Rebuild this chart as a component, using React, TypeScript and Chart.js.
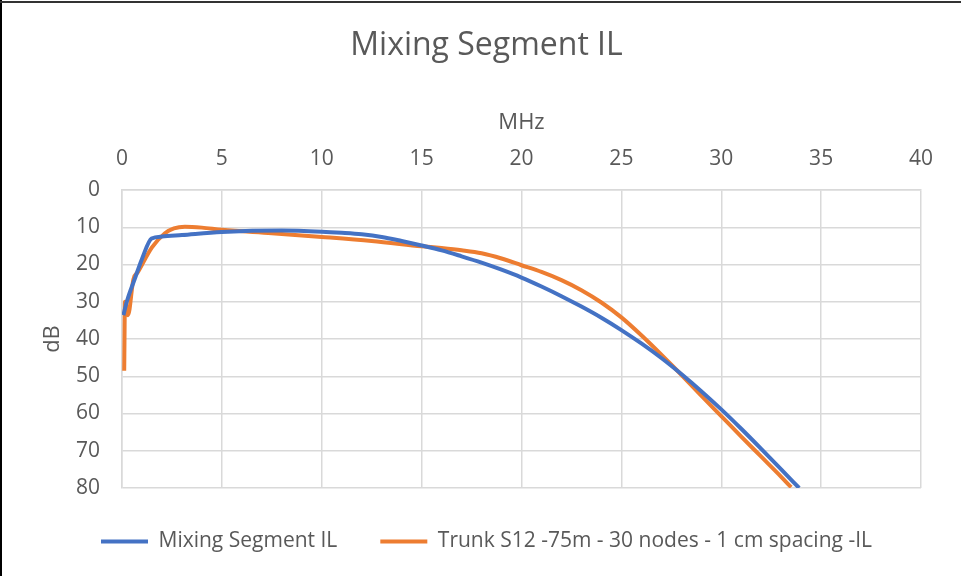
import React, { useEffect, useRef } from "react";
import { Chart, registerables } from "chart.js";

Chart.register(...registerables);

const chartTitle = "Mixing Segment IL";
const xAxisTitle = "MHz";
const yAxisTitle = "dB";

const mixingLabel = "Mixing Segment IL";
const mixingMHz = [0.07, 0.25, 0.65, 1.0, 1.48, 2.0, 3.0, 5, 8, 10, 11, 12, 13, 14, 15, 16, 17, 18, 19, 20, 21, 22, 23, 24, 25, 26, 27, 28, 29, 30, 31, 32, 33, 33.9];
const mixingDb = [33.6, 29.8, 23.7, 18.5, 13.0, 12.5, 12.1, 11.3, 10.9, 11.2, 11.5, 11.9, 12.6, 13.7, 14.9, 16.2, 17.8, 19.5, 21.4, 23.5, 25.9, 28.5, 31.3, 34.3, 37.6, 41.2, 45.1, 49.4, 54.0, 58.9, 64.1, 69.5, 75.0, 80];

const trunkLabel = "Trunk S12 -75m - 30 nodes - 1 cm spacing -IL";
const trunkMHz = [0.11, 0.15, 0.3, 0.57, 0.8, 1.5, 2.15, 2.6, 3.15, 4, 5, 7.5, 10, 12.5, 15, 16, 17, 18, 19, 20, 21, 22, 23, 24, 25, 26, 27, 28, 29, 30, 31, 32, 33, 33.5];
const trunkDb = [48.5, 30, 33.6, 24, 22, 15.4, 11.6, 10.3, 9.85, 10.1, 10.7, 11.6, 12.6, 13.7, 15.1, 15.6, 16.2, 17.0, 18.4, 20.2, 22.0, 24.2, 26.9, 30.2, 34.2, 39.0, 44.2, 49.6, 55.2, 60.7, 66.2, 71.6, 77.0, 79.8];

const xMin = 0, xMax = 40, xStep = 5;
const yMin = 0, yMax = 80, yStep = 10;

const BLUE = "#4472C4";
const ORANGE = "#ED7D31";
const TEXT = "#595959";
const GRID = "#d9d9d9";
const FONT = "'Open Sans', sans-serif";

function toPoints(xs: number[], ys: number[]) {
  return xs.map((x, i) => ({ x, y: ys[i] }));
}

export default function App() {
  const ref = useRef<HTMLCanvasElement | null>(null);

  useEffect(() => {
    document.body.style.margin = "0";
    const canvas = ref.current;
    if (!canvas) return;
    const defaultGen = Chart.defaults.plugins.legend.labels.generateLabels;
    const chart = new Chart(canvas, {
      type: "line",
      data: {
        datasets: [
          {
            label: mixingLabel,
            data: toPoints(mixingMHz, mixingDb),
            borderColor: BLUE,
            backgroundColor: BLUE,
            borderWidth: 4,
            pointRadius: 0,
            cubicInterpolationMode: "monotone",
          },
          {
            label: trunkLabel,
            data: toPoints(trunkMHz, trunkDb),
            borderColor: ORANGE,
            backgroundColor: ORANGE,
            borderWidth: 4,
            pointRadius: 0,
            cubicInterpolationMode: "monotone",
          },
        ],
      },
      options: {
        responsive: false,
        animation: false,
        devicePixelRatio: 1,
        layout: { padding: { left: 52, right: 40, top: 0, bottom: 14 } },
        plugins: {
          tooltip: { enabled: false },
          title: {
            display: true,
            text: chartTitle,
            color: TEXT,
            font: { family: FONT, size: 32, weight: "normal" },
            padding: { top: 27, bottom: 0.6 },
          },
          legend: {
            display: true,
            position: "bottom",
            labels: {
              color: TEXT,
              font: { family: FONT, size: 21 },
              boxWidth: 47,
              boxHeight: 4,
              padding: 43,
              generateLabels: (c: any) =>
                defaultGen(c).map((it: any) => ({ ...it, lineWidth: 0 })),
            },
          },
        },
        scales: {
          x: {
            type: "linear",
            position: "top",
            min: xMin,
            max: xMax,
            ticks: {
              stepSize: xStep,
              color: TEXT,
              font: { family: FONT, size: 21 },
              padding: 18,
              maxRotation: 0,
            },
            grid: { color: GRID, lineWidth: 1.5, drawTicks: false },
            border: { color: GRID, width: 1.5 },
            title: {
              display: true,
              text: xAxisTitle,
              color: TEXT,
              font: { family: FONT, size: 22 },
              padding: { top: 44, bottom: 0 },
            },
            afterFit: (scale: any) => {
              scale.height = 124;
            },
          },
          y: {
            type: "linear",
            reverse: true,
            min: yMin,
            max: yMax,
            ticks: {
              stepSize: yStep,
              color: TEXT,
              font: { family: FONT, size: 21 },
              padding: 22,
            },
            grid: { color: GRID, lineWidth: 1.5, drawTicks: false },
            border: { color: GRID, width: 1.5 },
            title: {
              display: true,
              text: yAxisTitle,
              color: TEXT,
              font: { family: FONT, size: 22 },
              padding: { top: -12.5, bottom: 0 },
            },
            afterFit: (scale: any) => {
              scale.width = 70;
            },
          },
        },
      },
    } as any);
    return () => chart.destroy();
  }, []);

  return (
    <div style={{ position: "fixed", left: 0, top: 0, width: 961, height: 576, background: "#fff" }}>
      <canvas ref={ref} width={961} height={576} style={{ width: 961, height: 576, display: "block" }} />
      <div style={{ position: "absolute", left: 0, top: 0, width: 2, height: 576, background: "#000" }} />
      <div style={{ position: "absolute", left: 0, top: 1, width: 961, height: 2, background: "#333" }} />
    </div>
  );
}
